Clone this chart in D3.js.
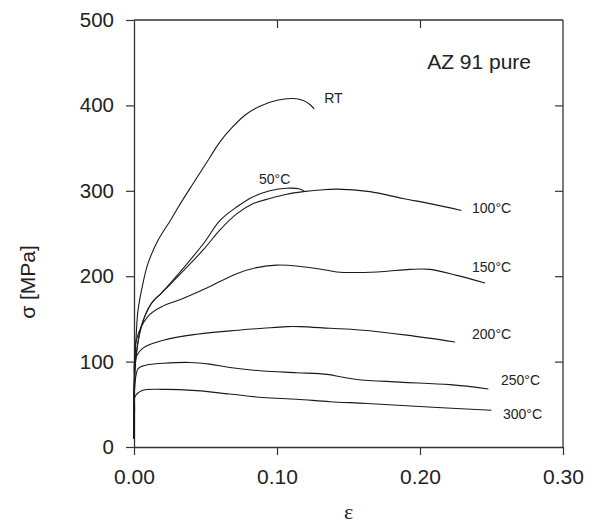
<!DOCTYPE html>
<html>
<head>
<meta charset="utf-8">
<script src="https://cdn.jsdelivr.net/npm/d3@7"></script>
<style>
  body { margin: 0; background: #fff; }
  text { font-family: "Liberation Sans", Arial, sans-serif; fill: #222; }
</style>
</head>
<body>
<svg id="chart" width="592" height="526"></svg>
<script>
// strain values (epsilon) and stress (MPa)
let rtEps    = [0, 0.0005, 0.0016, 0.0028, 0.0063, 0.0098, 0.0168, 0.0261, 0.031, 0.040, 0.050, 0.060, 0.068, 0.078, 0.088, 0.100, 0.111, 0.118, 0.123, 0.126];
let rtSig    = [10, 90, 133, 160, 192, 215, 242, 267, 281, 305, 331, 357, 373, 389, 399, 406, 408, 406, 401, 396];

let t50Eps   = [0, 0.0008, 0.0051, 0.0121, 0.019, 0.025, 0.0485, 0.060, 0.0718, 0.0834, 0.095, 0.1068, 0.116, 0.1196];
let t50Sig   = [10, 95, 141, 168, 180, 191, 238, 265, 281, 293, 300, 303, 302, 299];

let t100Eps  = [0, 0.0008, 0.0051, 0.0121, 0.019, 0.025, 0.0485, 0.060, 0.0718, 0.0834, 0.095, 0.1068, 0.1184, 0.130, 0.1417, 0.165, 0.188, 0.207, 0.229];
let t100Sig  = [10, 95, 141, 168, 180, 190, 231, 254, 273, 285, 291, 296, 299, 301, 302, 299, 291, 285, 277];

let t150Eps  = [0, 0.0004, 0.0016, 0.0098, 0.019, 0.033, 0.052, 0.0718, 0.0858, 0.100, 0.118, 0.135, 0.1417, 0.170, 0.193, 0.207, 0.2257, 0.2455];
let t150Sig  = [10, 80, 125, 153, 164, 173, 187, 203, 210, 213, 211, 207, 205, 205, 208, 208, 201, 192];

let t200Eps  = [0, 0.0003, 0.0007, 0.0065, 0.0205, 0.0438, 0.067, 0.090, 0.1068, 0.116, 0.137, 0.158, 0.1907, 0.2245];
let t200Sig  = [10, 75, 102, 116, 125, 132, 136, 139, 141, 141, 139, 137, 131, 123];

let t250Eps  = [0, 0.0005, 0.003, 0.0089, 0.0205, 0.039, 0.053, 0.067, 0.090, 0.1138, 0.135, 0.145, 0.156, 0.186, 0.221, 0.2478];
let t250Sig  = [10, 70, 92, 96, 98, 99, 97, 93, 89, 87, 85, 82, 79, 76, 73, 68];

let t300Eps  = [0, 0.0004, 0.0007, 0.0054, 0.0205, 0.0438, 0.067, 0.090, 0.1138, 0.137, 0.163, 0.209, 0.250];
let t300Sig  = [10, 45, 59, 66, 67.5, 66, 62, 58, 56, 53, 51, 46.5, 43];

let seriesNames = ["RT", "50°C", "100°C", "150°C", "200°C", "250°C", "300°C"];
// where each label sits, in data units (epsilon, MPa)
let labelEps = [0.133, 0.0874, 0.2364, 0.2364, 0.2364, 0.2566, 0.258];
let labelSig = [403, 308, 274, 205, 126.5, 72.6, 32.8];

let xTicks = [0, 0.1, 0.2, 0.3];
let yTicks = [0, 100, 200, 300, 400, 500];

function buildSeries() {
    let eps = [rtEps, t50Eps, t100Eps, t150Eps, t200Eps, t250Eps, t300Eps];
    let sig = [rtSig, t50Sig, t100Sig, t150Sig, t200Sig, t250Sig, t300Sig];
    let out = [];
    for (let i = 0; i < seriesNames.length; i++) {
        let pts = eps[i].map((e, j) => ({e: e, s: sig[i][j]}));
        out.push({name: seriesNames[i], points: pts, lx: labelEps[i], ly: labelSig[i]});
    }
    return out;
}

function drawChart() {
    let svg = d3.select("#chart");
    let left = 134, right = 563, top = 20, bottom = 447;

    let x = d3.scaleLinear().domain([0, 0.3]).range([left, right]);
    let y = d3.scaleLinear().domain([0, 500]).range([bottom, top]);

    let axisColor = "#333";

    // bottom axis with labels
    let xAxis = svg.append("g")
        .attr("transform", "translate(0," + bottom + ")")
        .call(d3.axisBottom(x).tickValues(xTicks).tickSize(8).tickSizeOuter(0).tickPadding(14)
            .tickFormat(d3.format(".2f")));
    xAxis.selectAll("text").style("font-size", "21px");

    // left axis with labels
    let yAxis = svg.append("g")
        .attr("transform", "translate(" + left + ",0)")
        .call(d3.axisLeft(y).tickValues(yTicks).tickSize(8).tickSizeOuter(0).tickPadding(12));
    yAxis.selectAll("text").style("font-size", "20.5px");

    // top and right frame with inward ticks
    svg.append("g")
        .attr("transform", "translate(0," + top + ")")
        .call(d3.axisBottom(x).tickValues(xTicks.slice(1, 3)).tickSize(8).tickSizeOuter(0).tickFormat(""))
        .select(".domain").remove();
    svg.append("line")
        .attr("x1", left).attr("x2", right).attr("y1", top).attr("y2", top)
        .attr("stroke", axisColor).attr("stroke-width", 1.3);
    svg.append("g")
        .attr("transform", "translate(" + right + ",0)")
        .call(d3.axisLeft(y).tickValues(yTicks.slice(1, 5)).tickSize(8).tickSizeOuter(0).tickFormat(""))
        .select(".domain").remove();
    svg.append("line")
        .attr("x1", right).attr("x2", right).attr("y1", top).attr("y2", bottom)
        .attr("stroke", axisColor).attr("stroke-width", 1.3);

    svg.selectAll(".domain").attr("stroke", axisColor).attr("stroke-width", 1.3);
    svg.selectAll(".tick line").attr("stroke", axisColor).attr("stroke-width", 1.2);
    svg.selectAll(".tick text").attr("fill", "#222").style("font-family", "'Liberation Sans', Arial, sans-serif");

    // curves
    let series = buildSeries();
    let line = d3.line()
        .x(d => x(d.e))
        .y(d => y(d.s))
        .curve(d3.curveCatmullRom.alpha(0.5));

    svg.append("g").selectAll("path").data(series)
        .enter().append("path")
        .attr("d", d => line(d.points))
        .attr("fill", "none")
        .attr("stroke", "#1a1a1a")
        .attr("stroke-width", 1.1);

    svg.append("g").selectAll("text").data(series)
        .enter().append("text")
        .attr("x", d => x(d.lx))
        .attr("y", d => y(d.ly))
        .style("font-size", "14px")
        .text(d => d.name);

    // material note
    svg.append("text")
        .attr("x", x(0.205))
        .attr("y", y(443))
        .style("font-size", "21px")
        .text("AZ 91 pure");

    // axis titles
    svg.append("text")
        .attr("transform", "translate(35,282) rotate(-90)")
        .attr("text-anchor", "middle")
        .style("font-size", "21px")
        .text("σ [MPa]");
    svg.append("text")
        .attr("x", (left + right) / 2)
        .attr("y", 519)
        .attr("text-anchor", "middle")
        .style("font-family", "'Liberation Serif', 'Times New Roman', serif")
        .style("font-size", "22px")
        .text("ε");
}

drawChart();
</script>
</body>
</html>
